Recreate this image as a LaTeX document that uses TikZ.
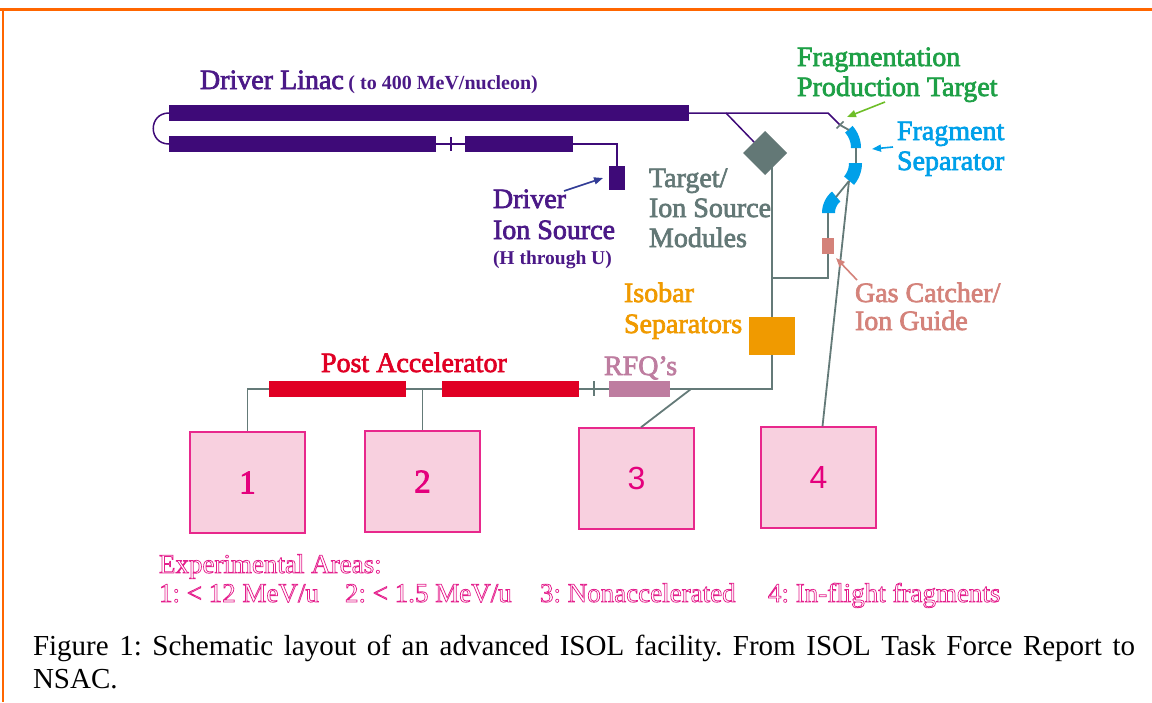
\documentclass[tikz,border=0pt]{standalone}
\usepackage{fontspec}
\setmainfont{Liberation Serif}
\newfontfamily\sansf{Liberation Sans}
\newfontfamily\lblf{Liberation Serif}[BoldFont={Liberation Serif},BoldFeatures={FakeBold=2.5}]
\usetikzlibrary{shapes.geometric,arrows.meta}
\newcommand\fsz[1]{\fontsize{#1}{#1}\selectfont}
\newcommand\hollowtxt[1]{\special{pdf:literal direct 1 Tr 0.75 w}#1\special{pdf:literal direct 0 Tr}}
\definecolor{frameOr}{RGB}{255,102,0}
\definecolor{linacc}{RGB}{62,10,120}
\definecolor{linacTxt}{RGB}{75,25,135}
\definecolor{modGray}{RGB}{99,120,118}
\definecolor{beamGray}{RGB}{100,122,120}
\definecolor{fragGreen}{RGB}{30,160,70}
\definecolor{fragArr}{RGB}{110,190,40}
\definecolor{sepBlue}{RGB}{0,160,233}
\definecolor{isoOr}{RGB}{240,154,0}
\definecolor{gasC}{RGB}{212,130,122}
\definecolor{rfqC}{RGB}{190,125,160}
\definecolor{paRed}{RGB}{224,0,36}
\definecolor{areaFill}{RGB}{248,208,223}
\definecolor{areaBorder}{RGB}{232,40,140}
\definecolor{areaNum}{RGB}{228,0,125}
\definecolor{expPink}{RGB}{228,30,140}
\definecolor{drvArrow}{RGB}{50,60,150}
\frenchspacing
\begin{document}
\begin{tikzpicture}[x=1pt,y=-1pt,
  bar/.style={rectangle,inner sep=0pt,outer sep=0pt,draw=none},
  txt/.style={anchor=base west,inner sep=0pt,outer sep=0pt},
  lbl/.style={txt,font=\lblf\bfseries\fsz{28}},
  exptxt/.style={txt,text=expPink,font=\fsz{27}},
  area/.style={rectangle,draw=areaBorder,fill=areaFill,line width=1.4pt,minimum width=115pt,minimum height=101pt,inner sep=0pt,text=areaNum},
  beam/.style={draw=beamGray,line width=1.8pt},
  pline/.style={draw=linacc,line width=1.5pt},
  arr/.style={-{Triangle[length=9pt,width=7pt]},line width=1.6pt}
]
\useasboundingbox (0,0) rectangle (1152,702);
% frame
\draw[frameOr,line width=3pt] (0,9) -- (1152,9);
\draw[frameOr,line width=2pt] (3,8) -- (3,702);

% components
\node[bar,fill=linacc,minimum width=520pt,minimum height=16pt] (linTop) at (429,113) {};
\node[bar,fill=linacc,minimum width=267pt,minimum height=16pt] (linB1) at (302.5,144) {};
\node[bar,fill=linacc,minimum width=108pt,minimum height=16pt] (linB2) at (519,144) {};
\node[bar,fill=linacc,minimum width=16pt,minimum height=24pt] (ionSrc) at (617,178) {};
\node[diamond,fill=modGray,minimum width=44pt,minimum height=44pt,inner sep=0pt,outer sep=0pt] (tism) at (765,153) {};
\node[bar,fill=gasC,minimum width=12pt,minimum height=16pt] (gasCat) at (828,246) {};
\node[bar,fill=isoOr,minimum width=46pt,minimum height=38pt] (isoSep) at (772,336) {};
\node[bar,fill=rfqC,minimum width=61pt,minimum height=16pt] (rfq) at (639.5,389) {};
\node[bar,fill=paRed,minimum width=137pt,minimum height=16pt] (pa1) at (337.5,389) {};
\node[bar,fill=paRed,minimum width=137pt,minimum height=16pt] (pa2) at (510.5,389) {};
\node[area,font=\lblf\bfseries\fsz{33}] (ar1) at (247.5,482.5) {1};
\node[area,font=\lblf\bfseries\fsz{33}] (ar2) at (422.5,481.5) {2};
\node[area,font=\sansf\fsz{32}] (ar3) at (636.5,478.5) {3};
\node[area,font=\sansf\fsz{32}] (ar4) at (818.5,477.5) {4};

% fragment separator pieces
\fill[sepBlue] plot[domain=-42:0,samples=12] ({828+33*cos(\x)},{148+33*sin(\x)}) -- plot[domain=0:-42,samples=12] ({828+23*cos(\x)},{148+23*sin(\x)}) -- cycle;
\fill[sepBlue] plot[domain=0:40,samples=12] ({828+34*cos(\x)},{163+34*sin(\x)}) -- plot[domain=40:0,samples=12] ({828+21*cos(\x)},{163+21*sin(\x)}) -- cycle;
\fill[sepBlue] plot[domain=180:230,samples=12] ({850+28*cos(\x)},{213+28*sin(\x)}) -- plot[domain=230:180,samples=12] ({850+15*cos(\x)},{213+15*sin(\x)}) -- cycle;

% named points
\coordinate (bend) at (828,113);
\coordinate (tgt) at (840,125);
\coordinate (tBranch) at (726,113);
\coordinate (s1top) at (849,130);
\coordinate (s1bot) at (856,148);
\coordinate (s2top) at (856,163);
\coordinate (s2bot) at (849,181);
\coordinate (s3top) at (836,197);
\coordinate (s3bot) at (828,213);
\coordinate (gasJ) at (772,278);
\coordinate (br3) at (691,389);
\coordinate (tkLa) at (451,137);
\coordinate (tkLb) at (451,151);
\coordinate (tkPa) at (594,381);
\coordinate (tkPb) at (594,396);
\coordinate (tkTa) at (836.5,128.5);
\coordinate (tkTb) at (843.5,121.5);

% driver beam lines
\draw[pline] (linTop.west) .. controls (148,113) and (148,144) .. (linB1.west);
\draw[pline] (linB1.east) -- (linB2.west);
\draw[pline] (tkLa) -- (tkLb);
\draw[pline] (linB2.east) -| (ionSrc.north);
\draw[pline] (linTop.east) -- (bend) -- (tgt);
\draw[pline] (tBranch) -- (tism.north west);
\draw[beam] (tgt) -- (s1top);
\draw[beamGray,line width=1.5pt] (tkTa) -- (tkTb);

% separator / beam lines
\draw[beam] (s1bot) -- (s2top);
\draw[beam] (s2bot) -- (s3top);
\draw[beam] (s3bot) -- (gasCat.north);
\draw[beam] (gasCat.south) |- (gasJ);
\draw[beam] (s2bot) -- ([xshift=4pt]ar4.north);
\draw[beam] (tism.south east -| isoSep.north) -- (isoSep.north);
\draw[beam] (isoSep.south) |- (rfq.east);
\draw[beam] (rfq.west) -- (pa2.east);
\draw[beam] (tkPa) -- (tkPb);
\draw[beam] (pa2.west) -- (pa1.east);
\draw[beam] (pa1.west) -| (ar1.north);
\draw[beam] (ar2.north |- pa1.east) -- (ar2.north);
\draw[beam] (br3) -- ([xshift=4.5pt]ar3.north);

% arrows
\coordinate (aDrv) at (564,191);
\coordinate (aFrag) at (885,102);
\coordinate (aFragH) at (847,117);
\coordinate (aSep) at (893,147);
\coordinate (aSepH) at (872,149);
\coordinate (aGas) at (857,280);
\draw[arr,drvArrow] (aDrv) -- ([xshift=-6pt]ionSrc.west);
\draw[arr,fragArr] (aFrag) -- (aFragH);
\draw[arr,sepBlue] (aSep) -- (aSepH);
\draw[arr,gasC] (aGas) -- ([xshift=2pt,yshift=-4pt]gasCat.south east);

% labels
\node[lbl,text=linacTxt] (tLinac) at (200,89) {Driver Linac\,{\rmfamily\bfseries\fsz{20}( to 400 MeV/nucleon)}};
\node[lbl,text=linacTxt] (tDrv1) at (493,208) {Driver};
\node[lbl,text=linacTxt] (tDrv2) at (493,239) {Ion Source};
\node[txt,text=linacTxt,font=\rmfamily\bfseries\fsz{19.5}] (tDrv3) at (493,264) {(H through U)};
\node[lbl,text=modGray] (tTgt1) at (649,187) {Target/};
\node[lbl,text=modGray] (tTgt2) at (649,217) {Ion Source};
\node[lbl,text=modGray] (tTgt3) at (649,247) {Modules};
\node[lbl,text=fragGreen] (tFrag1) at (797,66) {Fragmentation};
\node[lbl,text=fragGreen] (tFrag2) at (797,96) {Production Target};
\node[lbl,text=sepBlue] (tSep1) at (897,140) {Fragment};
\node[lbl,text=sepBlue] (tSep2) at (897,170) {Separator};
\node[lbl,text=isoOr] (tIso1) at (624,302) {Isobar};
\node[lbl,text=isoOr] (tIso2) at (624,333) {Separators};
\node[lbl,text=gasC] (tGas1) at (855,302) {Gas Catcher/};
\node[lbl,text=gasC] (tGas2) at (855,330) {Ion Guide};
\node[lbl,text=rfqC] (tRfq) at (604,375) {RFQ’s};
\node[lbl,text=paRed] (tPost) at (321,372) {Post Accelerator};
\node[exptxt] (tExp) at (159,573) {\hollowtxt{Experimental Areas:}};
\node[exptxt] (tE1) at (159,602) {\hollowtxt{1: < 12 MeV/u}};
\node[exptxt] (tE2) at (345,602) {\hollowtxt{2: < 1.5 MeV/u}};
\node[exptxt] (tE3) at (540,602) {\hollowtxt{3: Nonaccelerated}};
\node[exptxt] (tE4) at (768,602) {\hollowtxt{4: In-flight fragments}};
\node[txt,font=\fsz{29}] (cap1) at (33,655) {\makebox[1102pt][s]{Figure 1: Schematic layout of an advanced ISOL facility. From ISOL Task Force Report to}};
\node[txt,font=\fsz{29}] (cap2) at (33,688) {NSAC.};
\end{tikzpicture}
\end{document}
